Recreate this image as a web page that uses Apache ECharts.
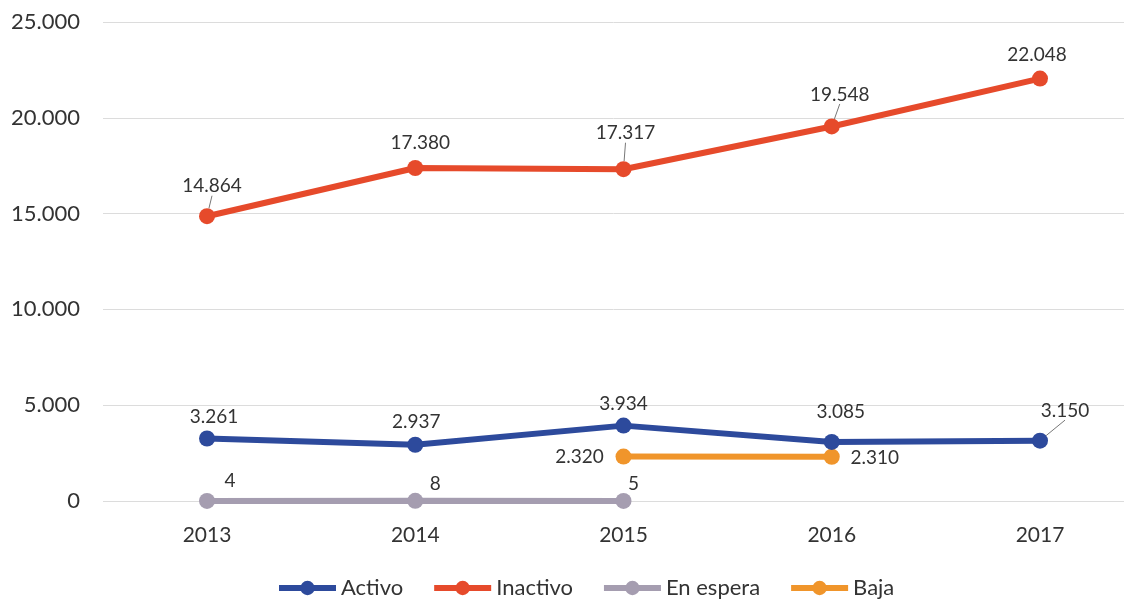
<!DOCTYPE html>
<html><head><meta charset="utf-8">
<script src="https://cdn.jsdelivr.net/npm/echarts@6/dist/echarts.min.js"></script>
<style>html,body{margin:0;padding:0;background:#fff}#c{width:1124px;height:602px}</style>
</head><body><div id="c"></div>
<script>
const categories = ['2013','2014','2015','2016','2017'];
const activo = [3261, 2937, 3934, 3085, 3150];
const inactivo = [14864, 17380, 17317, 19548, 22048];
const enEspera = [4, 8, 5, null, null];
const baja = [null, null, 2320, 2310, null];
const yTicks = [0, 5000, 10000, 15000, 20000, 25000];

const FONT = 'Lato';
function fmt(v){ return String(Math.round(v)).replace(/\B(?=(\d{3})+(?!\d))/g, '.'); }

// label placement styles (offsets from the point, in px) and leader-line flags
const activoLbl = [[7,-22],[1,-23],[0,-22],[9,-30],[25,-30]];
const activoLead = [false,false,false,false,true];
const inactivoLbl = [[5,-30],[5,-25],[2,-36],[8,-32],[-3,-24]];
const inactivoLead = [true,false,true,true,false];
const esperaLbl = [[23,-20],[20,-17],[10,-17],null,null];
const bajaLbl = [null,null,[-44,0],[43,1],null];

function mk(vals, offs, leads){
  return vals.map((v,i)=> v==null ? null : {
    value: v,
    label: { offset: offs[i] },
    labelLine: { show: !!(leads && leads[i]), lineStyle: { color: '#777', width: 1 } }
  });
}

const labelBase = {
  show: true, position: 'inside', color: '#333', fontFamily: FONT, fontSize: 19,
  formatter: p => fmt(p.value)
};

const TOP = 22, BOTTOM = 101;
const chart = echarts.init(document.getElementById('c'), null, {renderer:'canvas'});
chart.setOption({
  animation: false,
  textStyle: { fontFamily: FONT },
  grid: [
    { left: 103, right: 0, top: TOP, bottom: BOTTOM },
    { left: 207, right: 84, top: TOP, bottom: BOTTOM }
  ],
  legend: {
    bottom: -2, left: 271, itemWidth: 57, itemHeight: 18, itemGap: 28,
    lineStyle: { width: 6 },
    textStyle: { fontFamily: FONT, fontSize: 22, color: '#333' },
    data: ['Activo','Inactivo','En espera','Baja']
  },
  xAxis: [
    { gridIndex: 0, type: 'category', data: categories, show: false },
    { gridIndex: 1, type: 'category', data: categories, boundaryGap: false,
      axisLine: { show: false }, axisTick: { show: false }, splitLine: { show: false },
      axisLabel: { color: '#333', fontSize: 21, fontFamily: FONT, margin: 24 } }
  ],
  yAxis: [
    { gridIndex: 0, type: 'value', min: 0, max: 25000, interval: 5000,
      axisLine: { show: false }, axisTick: { show: false },
      axisLabel: { color: '#333', fontSize: 22, fontFamily: FONT, margin: 23,
        formatter: v => yTicks.includes(v) ? fmt(v) : '' },
      splitLine: { lineStyle: { color: '#dcdcdc', width: 1 } } },
    { gridIndex: 1, type: 'value', min: 0, max: 25000, interval: 5000, show: false,
      splitLine: { show: false } }
  ],
  series: [
    { name: 'Activo', type: 'line', xAxisIndex: 1, yAxisIndex: 1, data: mk(activo, activoLbl, activoLead), symbol: 'circle', symbolSize: 16,
      lineStyle: { width: 6, color: '#2D4A9C' }, itemStyle: { color: '#2D4A9C' }, label: labelBase, z: 3 },
    { name: 'Inactivo', type: 'line', xAxisIndex: 1, yAxisIndex: 1, data: mk(inactivo, inactivoLbl, inactivoLead), symbol: 'circle', symbolSize: 16,
      lineStyle: { width: 6, color: '#E64A2B' }, itemStyle: { color: '#E64A2B' }, label: labelBase, z: 3 },
    { name: 'En espera', type: 'line', xAxisIndex: 1, yAxisIndex: 1, data: mk(enEspera, esperaLbl), symbol: 'circle', symbolSize: 16,
      lineStyle: { width: 6, color: '#A59DB0' }, itemStyle: { color: '#A59DB0' }, label: labelBase, z: 2 },
    { name: 'Baja', type: 'line', xAxisIndex: 1, yAxisIndex: 1, data: mk(baja, bajaLbl), symbol: 'circle', symbolSize: 16,
      lineStyle: { width: 6, color: '#F0952B' }, itemStyle: { color: '#F0952B' }, label: labelBase, z: 2 }
  ]
});
</script></body></html>
